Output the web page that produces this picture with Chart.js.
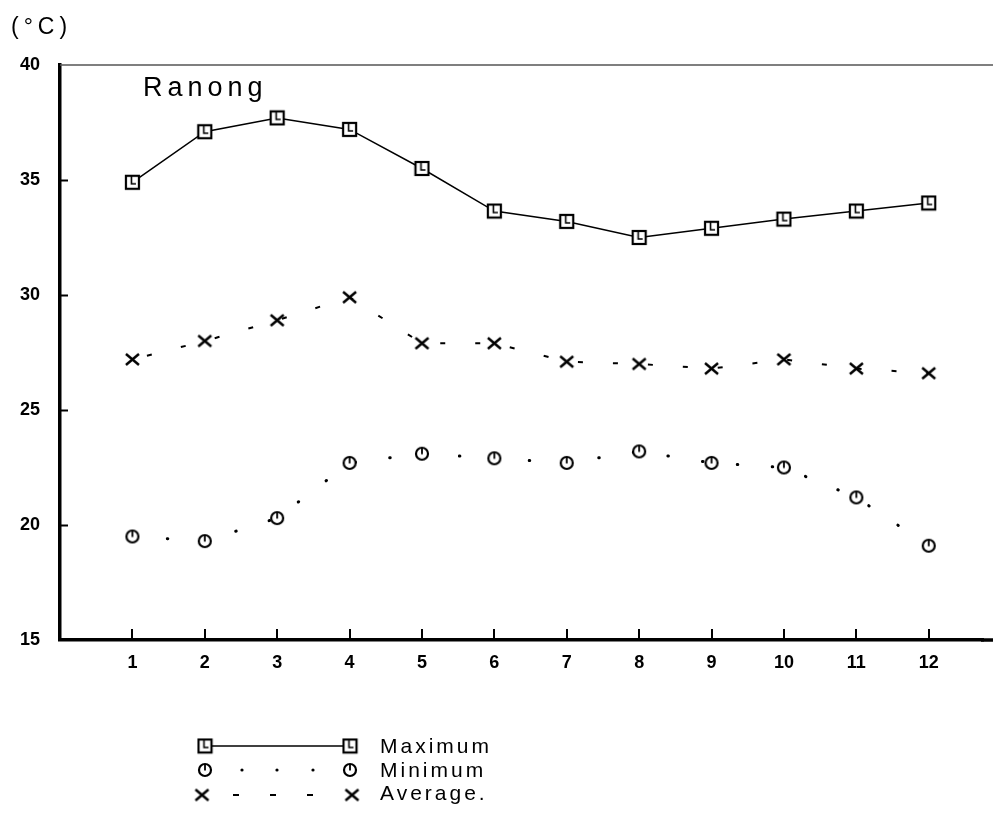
<!DOCTYPE html>
<html><head><meta charset="utf-8">
<script src="https://cdn.jsdelivr.net/npm/chart.js@4"></script>
<style>html,body{margin:0;padding:0;background:#fff}#wrap{width:993px;height:822px;position:relative}</style>
</head><body><div id="wrap"><canvas id="c" width="993" height="822"></canvas></div>
<script>
const months = [1,2,3,4,5,6,7,8,9,10,11,12];
const maximum = [34.9,37.1,37.7,37.2,35.5,33.65,33.2,32.5,32.9,33.3,33.65,34.0];
const minimum = [19.5,19.3,20.3,22.7,23.1,22.9,22.7,23.2,22.7,22.5,21.2,19.1];
const average = [27.2,28.0,28.9,29.9,27.9,27.9,27.1,27.0,26.8,27.2,26.8,26.6];
const yTicks = [15,20,25,30,35,40];
const seriesNames = ['Maximum','Minimum','Average.'];
const stationName = 'Ranong';
const unitLabel = '(°C)';

function mk(w, draw){const c=document.createElement('canvas');c.width=w;c.height=w;const g=c.getContext('2d');draw(g,w);return c;}
const sqImg = mk(17,(g)=>{g.fillStyle='#fff';g.fillRect(2,2,13,13);g.strokeStyle='#000';g.lineWidth=2.2;g.strokeRect(2,2,13,13);g.lineWidth=1.6;g.beginPath();g.moveTo(7.5,3);g.lineTo(7.5,10);g.lineTo(12,10);g.stroke();});
const ciImg = mk(16,(g)=>{g.fillStyle='#fff';g.beginPath();g.arc(8,8,6,0,Math.PI*2);g.fill();g.lineWidth=2.2;g.strokeStyle='#000';g.stroke();g.beginPath();g.moveTo(8,2.5);g.lineTo(8,8.5);g.lineWidth=1.8;g.stroke();});
const xImg = mk(17,(g)=>{g.strokeStyle='#000';g.lineWidth=2.5;g.beginPath();g.moveTo(2,3);g.lineTo(15,14);g.moveTo(15,3);g.lineTo(2,14);g.stroke();});

const pts = arr => months.map((m,i)=>({x:m,y:arr[i]}));

const deco = {
  id:'deco',
  afterDraw(chart){
    const {ctx, chartArea:a, scales:{x,y}} = chart;
    ctx.save();
    ctx.strokeStyle='#555'; ctx.lineWidth=1.5;
    ctx.beginPath(); ctx.moveTo(a.left,a.top); ctx.lineTo(chart.width,a.top); ctx.stroke();
    ctx.strokeStyle='#000'; ctx.lineWidth=3.5;
    ctx.beginPath(); ctx.moveTo(a.right-2,a.bottom); ctx.lineTo(chart.width,a.bottom); ctx.stroke();
    ctx.lineWidth=2;
    yTicks.forEach(v=>{ if(v===yTicks[0]||v===yTicks[yTicks.length-1]) return;
      const py=Math.round(y.getPixelForValue(v))+0.5;
      ctx.beginPath(); ctx.moveTo(a.left,py); ctx.lineTo(a.left+8,py); ctx.stroke();});
    months.forEach(m=>{ const px=Math.round(x.getPixelForValue(m));
      ctx.beginPath(); ctx.moveTo(px,a.bottom); ctx.lineTo(px,a.bottom-11); ctx.stroke();});
    ctx.fillStyle='#000';
    ctx.textBaseline='alphabetic'; ctx.textAlign='left';
    ctx.font='23px "Liberation Sans", Arial, sans-serif';
    ctx.letterSpacing='5px';
    ctx.fillText(unitLabel, 11, 34);
    ctx.font='27px "Liberation Sans", Arial, sans-serif';
    ctx.letterSpacing='5px';
    ctx.fillText(stationName, 143, 96);
    const x1=205, x2=350, tx=380;
    const rows=[746,770,795];
    const base=[753,777,800];
    ctx.letterSpacing='0px';
    ctx.lineWidth=1.5; ctx.beginPath(); ctx.moveTo(x1,rows[0]); ctx.lineTo(x2,rows[0]); ctx.stroke();
    [x1,x2].forEach(px=>ctx.drawImage(sqImg,px-sqImg.width/2,rows[0]-sqImg.height/2));
    [242,277,313].forEach(px=>{ctx.beginPath();ctx.arc(px,rows[1],1.6,0,Math.PI*2);ctx.fill();});
    [x1,x2].forEach(px=>ctx.drawImage(ciImg,px-ciImg.width/2,rows[1]-ciImg.height/2));
    ctx.lineWidth=2;
    [236,273,310].forEach(px=>{ctx.beginPath();ctx.moveTo(px-3,rows[2]);ctx.lineTo(px+3,rows[2]);ctx.stroke();});
    [x1-3,x2+2].forEach(px=>ctx.drawImage(xImg,px-xImg.width/2,rows[2]-xImg.height/2));
    ctx.font='21px "Liberation Sans", Arial, sans-serif';
    ctx.letterSpacing='3px';
    seriesNames.forEach((n,i)=>ctx.fillText(n, tx, base[i]));
    ctx.restore();
  }
};

const tickFont = {family:'"Liberation Sans", Arial, sans-serif', size:18, weight:'bold'};

new Chart(document.getElementById('c'), {
  type:'line',
  data:{datasets:[
    {label:seriesNames[0], data:pts(maximum), borderColor:'#000', borderWidth:1.5, pointStyle:sqImg, pointRadius:8, tension:0, fill:false},
    {label:seriesNames[1], data:pts(minimum), borderColor:'#000', borderWidth:3, borderDash:[0.5,34.5], borderCapStyle:'round', pointStyle:ciImg, pointRadius:7, tension:0, fill:false},
    {label:seriesNames[2], data:pts(average), borderColor:'#000', borderWidth:2, borderDash:[5,30], borderDashOffset:-15, pointStyle:xImg, pointRadius:8, tension:0, fill:false}
  ]},
  options:{
    responsive:false, animation:false, devicePixelRatio:1, events:[],
    layout:{padding:{top:65,left:0,right:0,bottom:0}},
    plugins:{legend:{display:false}, tooltip:{enabled:false}, title:{display:false}},
    scales:{
      x:{type:'linear', min:0, max:12.75,
        afterBuildTicks(s){ s.ticks = months.map(v=>({value:v})); },
        afterFit(s){s.height=182; s.paddingLeft=0; s.paddingRight=0;},
        grid:{color:'rgba(0,0,0,0)', drawTicks:false},
        border:{display:true, color:'#000', width:3.5},
        ticks:{autoSkip:false, maxRotation:0, padding:12, color:'#000', font:tickFont,
          callback:(v)=> String(v)}
      },
      y:{type:'linear', min:yTicks[0], max:yTicks[yTicks.length-1],
        afterBuildTicks(s){ s.ticks = yTicks.map(v=>({value:v})); },
        afterFit(s){s.width=60; s.paddingTop=0; s.paddingBottom=0;},
        grid:{color:'rgba(0,0,0,0)', drawTicks:false},
        border:{display:true, color:'#000', width:3.5},
        ticks:{padding:20, color:'#000', font:tickFont, callback:(v)=> String(v)}
      }
    }
  },
  plugins:[deco]
});
</script></body></html>
